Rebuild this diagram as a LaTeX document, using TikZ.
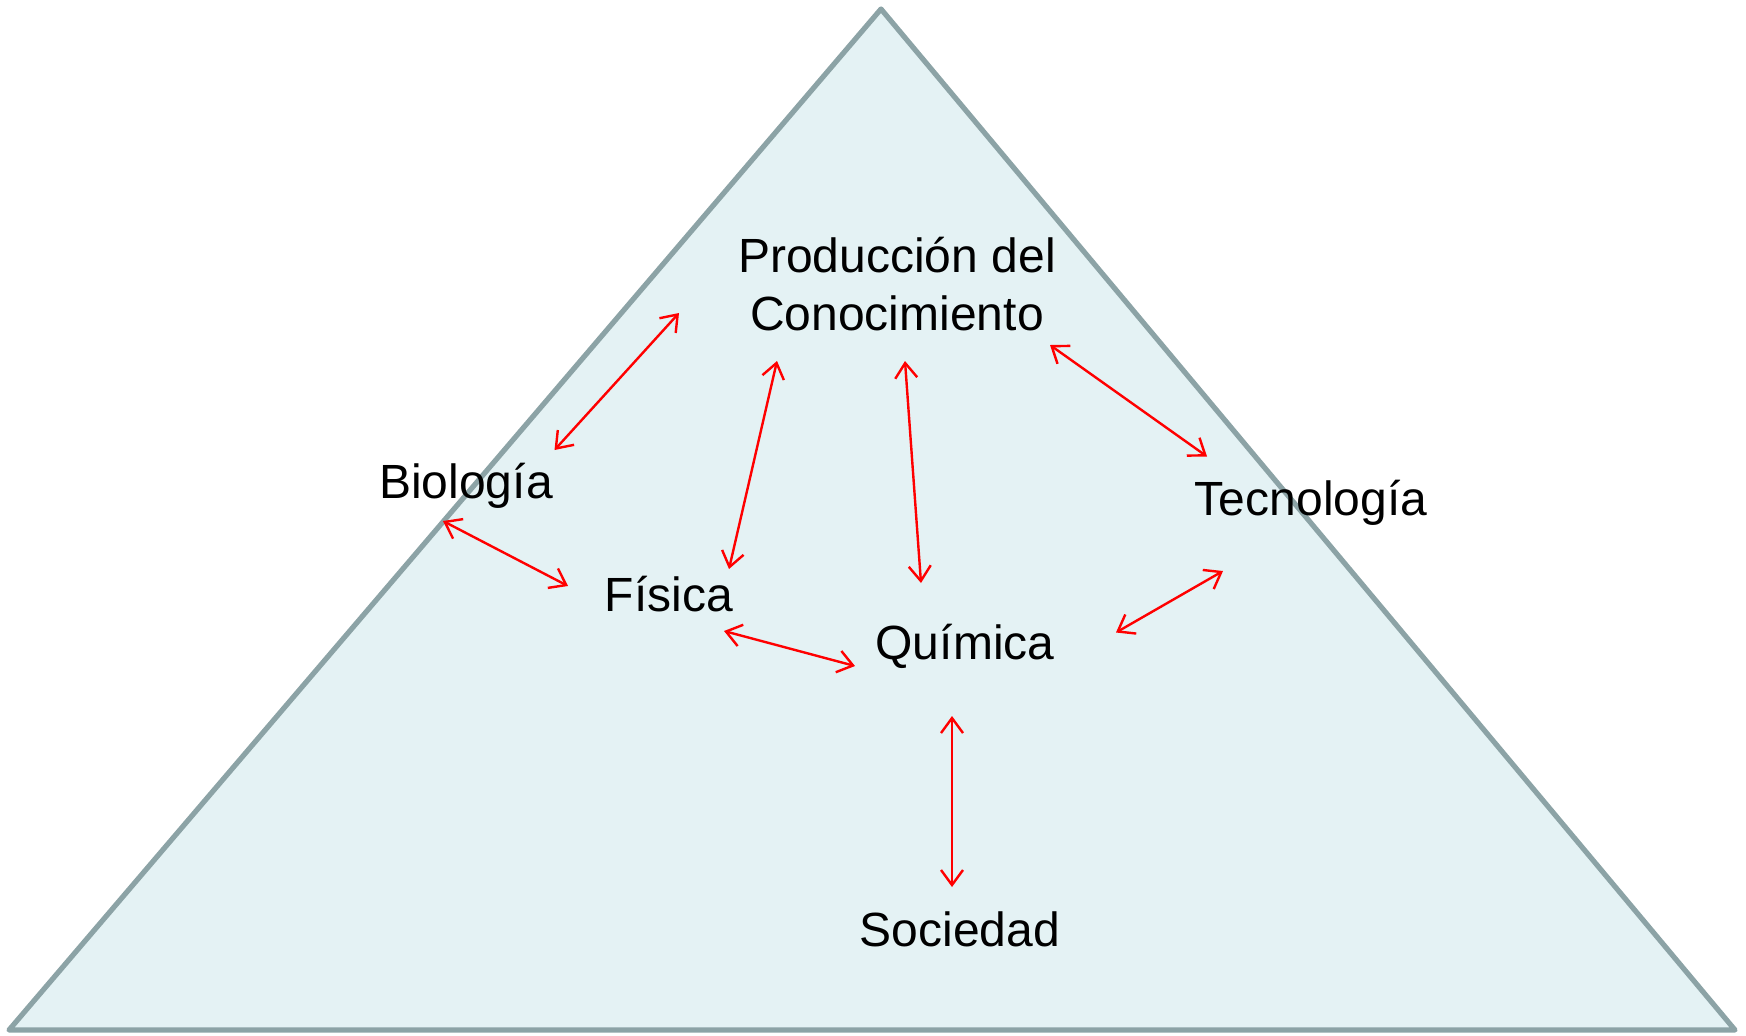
\documentclass[tikz,border=0pt]{standalone}
\usepackage{fontspec}
\setmainfont{Liberation Sans}
\usetikzlibrary{arrows.meta}
\definecolor{trifill}{HTML}{E4F2F4}
\definecolor{triline}{HTML}{8CA3A6}
\definecolor{arr}{HTML}{FF0000}
\tikzset{
  lbl/.style={font=\fontsize{24}{29}\selectfont, inner sep=0pt, align=center, text=black},
  link/.style={draw=arr, line width=1.2pt, {Straight Barb[length=7.5pt,width=11pt]}-{Straight Barb[length=7.5pt,width=11pt]}},
}
\begin{document}
\begin{tikzpicture}[x=0.5pt,y=-0.5pt]
\useasboundingbox (0,0) rectangle (1746,1035);
\draw[draw=triline, fill=trifill, line width=2.6pt, line join=round] (881,9) -- (9,1030) -- (1735,1030) -- cycle;

\node[lbl] (prod) at (897,284) {Producción del\\Conocimiento};
\node[lbl] (bio) at (466,486) {Biología};
\node[lbl] (tec) at (1311,503) {Tecnología};
\node[lbl] (fis) at (669,594) {Física};
\node[lbl] (qui) at (965,646) {Química};
\node[lbl] (soc) at (960,929) {Sociedad};

\coordinate (a1) at (554.5,450); \coordinate (b1) at (679,313);
\coordinate (a2) at (729,569);   \coordinate (b2) at (777,361);
\coordinate (a3) at (905,361);   \coordinate (b3) at (921,583);
\coordinate (a4) at (1050,345);  \coordinate (b4) at (1207,456.5);
\coordinate (a5) at (443,521);   \coordinate (b5) at (568,586);
\coordinate (a6) at (724,631);   \coordinate (b6) at (855,666);
\coordinate (a7) at (1116,632.5);\coordinate (b7) at (1223,571);
\coordinate (a8) at (952,716);   \coordinate (b8) at (952,887);

\foreach \i in {1,...,8} { \draw[link] (a\i) -- (b\i); }
\end{tikzpicture}
\end{document}
